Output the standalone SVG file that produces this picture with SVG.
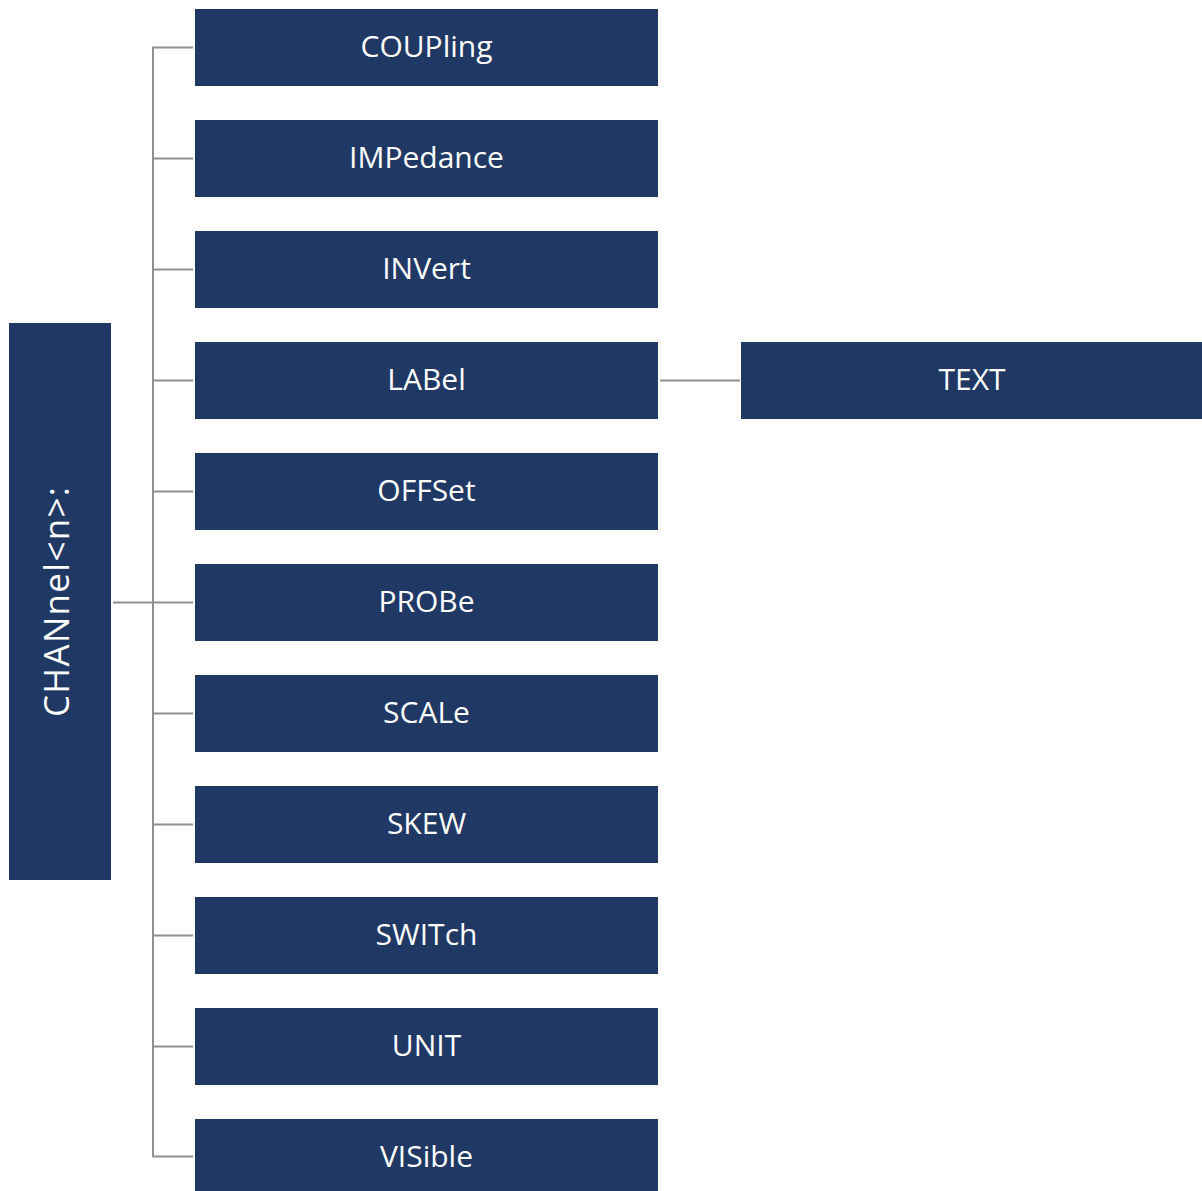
<svg xmlns="http://www.w3.org/2000/svg" width="1202" height="1191" viewBox="0 0 1202 1191">
<style>
.box{fill:#203864}
.lbl{font-family:"Open Sans","Liberation Sans",sans-serif;font-size:30px;fill:#ffffff;text-anchor:middle}
.ln{stroke:#8f8f8f;stroke-width:2;fill:none}
</style>
<rect width="1202" height="1191" fill="#ffffff"/>
<g id="connectors">
<path class="ln" d="M193,47.5 H153 V1156.5 H193"/>
<path class="ln" d="M153,158.5 H193 M153,269.5 H193 M153,380.5 H193 M153,491.5 H193 M153,713.5 H193 M153,824.5 H193 M153,935.5 H193 M153,1046.5 H193"/>
<path class="ln" d="M113,602.5 H193"/>
<path class="ln" d="M660,380.5 H740"/>
</g>
<g id="node-channel"><rect class="box" x="9" y="323" width="102" height="557"/><text class="lbl" style="font-size:35px" transform="translate(69,602) rotate(-90)" x="0" y="0" textLength="230" lengthAdjust="spacing">CHANnel&lt;n&gt;:</text></g>
<g id="node-coupling"><rect class="box" x="195" y="9" width="463" height="77"/><text class="lbl" x="426.5" y="57">COUPling</text></g>
<g id="node-impedance"><rect class="box" x="195" y="120" width="463" height="77"/><text class="lbl" x="426.5" y="168">IMPedance</text></g>
<g id="node-invert"><rect class="box" x="195" y="231" width="463" height="77"/><text class="lbl" x="426.5" y="279">INVert</text></g>
<g id="node-label"><rect class="box" x="195" y="342" width="463" height="77"/><text class="lbl" x="426.5" y="390">LABel</text></g>
<g id="node-offset"><rect class="box" x="195" y="453" width="463" height="77"/><text class="lbl" x="426.5" y="501">OFFSet</text></g>
<g id="node-probe"><rect class="box" x="195" y="564" width="463" height="77"/><text class="lbl" x="426.5" y="612">PROBe</text></g>
<g id="node-scale"><rect class="box" x="195" y="675" width="463" height="77"/><text class="lbl" x="426.5" y="723">SCALe</text></g>
<g id="node-skew"><rect class="box" x="195" y="786" width="463" height="77"/><text class="lbl" x="426.5" y="834">SKEW</text></g>
<g id="node-switch"><rect class="box" x="195" y="897" width="463" height="77"/><text class="lbl" x="426.5" y="945">SWITch</text></g>
<g id="node-unit"><rect class="box" x="195" y="1008" width="463" height="77"/><text class="lbl" x="426.5" y="1056">UNIT</text></g>
<g id="node-visible"><rect class="box" x="195" y="1119" width="463" height="77"/><text class="lbl" x="426.5" y="1167">VISible</text></g>
<g id="node-text"><rect class="box" x="741" y="342" width="461" height="77"/><text class="lbl" x="972" y="390">TEXT</text></g>
</svg>
